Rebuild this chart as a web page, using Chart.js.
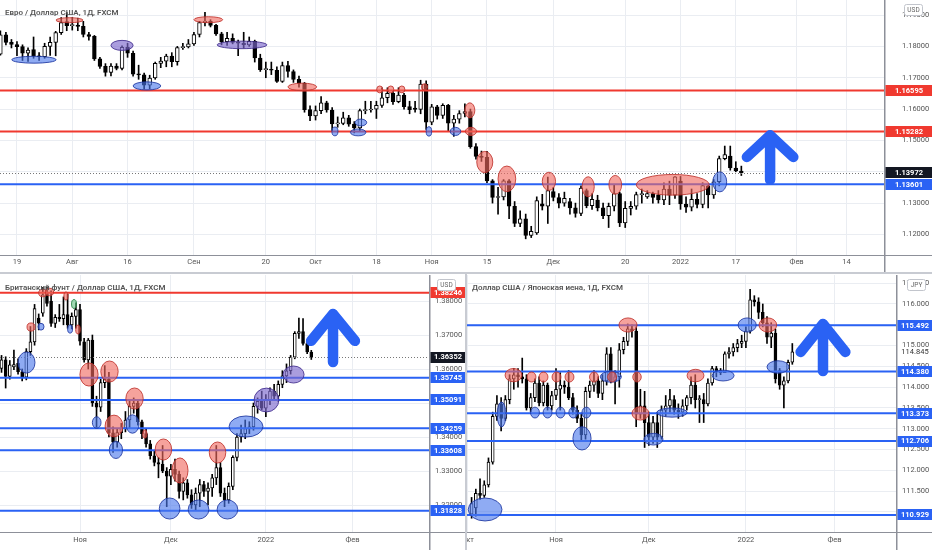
<!DOCTYPE html>
<html>
<head>
<meta charset="utf-8">
<script src="https://cdn.jsdelivr.net/npm/chart.js@4.4.1/dist/chart.umd.min.js"></script>
<style>
  body { margin: 0; background: #fff; width: 932px; height: 550px; overflow: hidden; position: relative; }
  canvas { position: absolute; }
  #eur { left: 0; top: 0; }
  #gbp { left: 0; top: 275px; }
  #jpy { left: 467px; top: 275px; }
  .sep { position: absolute; background: #c8cbd2; }
</style>
</head>
<body>
<canvas id="eur" width="932" height="272"></canvas>
<div class="sep" style="left:0;top:272px;width:932px;height:2px"></div>
<canvas id="gbp" width="465" height="275"></canvas>
<div class="sep" style="left:465px;top:274px;width:2px;height:276px"></div>
<canvas id="jpy" width="465" height="275"></canvas>
<script>
// ---- EUR/USD daily, first bar = Jul 14 2021 (index 0 = Jul 19)
const eurFirst = -3;
const eurOpen = [1.1775,1.1837,1.1813,1.1806,1.1799,1.1778,1.1790,1.1769,1.1767,1.1800,1.1813,1.1844,1.1879,1.1866,1.1868,1.1864,1.1838,1.1832,1.1760,1.1736,1.1717,1.1737,1.1730,1.1797,1.1778,1.1711,1.1709,1.1676,1.1699,1.1746,1.1753,1.1769,1.1751,1.1796,1.1798,1.1808,1.1838,1.1876,1.1880,1.1867,1.1840,1.1815,1.1826,1.1813,1.1810,1.1805,1.1816,1.1763,1.1726,1.1727,1.1724,1.1688,1.1739,1.1720,1.1695,1.1682,1.1598,1.1578,1.1595,1.1620,1.1597,1.1553,1.1554,1.1572,1.1552,1.1540,1.1595,1.1597,1.1600,1.1612,1.1636,1.1650,1.1624,1.1645,1.1608,1.1603,1.1599,1.1680,1.1558,1.1607,1.1580,1.1612,1.1555,1.1568,1.1586,1.1592,1.1480,1.1449,1.1446,1.1371,1.1318,1.1320,1.1371,1.1290,1.1235,1.1250,1.1197,1.1205,1.1298,1.1290,1.1337,1.1318,1.1300,1.1305,1.1285,1.1267,1.1340,1.1292,1.1310,1.1285,1.1260,1.1290,1.1330,1.1237,1.1283,1.1290,1.1327,1.1320,1.1330,1.1326,1.1310,1.1345,1.1325,1.1370,1.1297,1.1287,1.1312,1.1296,1.1355,1.1326,1.1368,1.1442,1.1450,1.1412,1.1402];
const eurHigh = [1.1850,1.1845,1.1822,1.1815,1.1805,1.1795,1.1830,1.1780,1.1810,1.1830,1.1848,1.1892,1.1908,1.1892,1.1890,1.1880,1.1845,1.1835,1.1765,1.1745,1.1745,1.1745,1.1802,1.1810,1.1785,1.1740,1.1715,1.1708,1.1750,1.1765,1.1775,1.1780,1.1800,1.1810,1.1822,1.1845,1.1880,1.1909,1.1885,1.1870,1.1845,1.1845,1.1840,1.1820,1.1845,1.1830,1.1820,1.1775,1.1750,1.1750,1.1735,1.1750,1.1752,1.1725,1.1705,1.1685,1.1610,1.1610,1.1640,1.1625,1.1605,1.1575,1.1590,1.1580,1.1560,1.1600,1.1625,1.1625,1.1625,1.1668,1.1668,1.1660,1.1668,1.1650,1.1625,1.1625,1.1692,1.1690,1.1615,1.1612,1.1617,1.1615,1.1580,1.1595,1.1617,1.1600,1.1490,1.1466,1.1465,1.1375,1.1350,1.1375,1.1375,1.1305,1.1275,1.1265,1.1226,1.1320,1.1328,1.1383,1.1350,1.1330,1.1335,1.1315,1.1300,1.1355,1.1345,1.1330,1.1325,1.1300,1.1300,1.1360,1.1335,1.1305,1.1305,1.1335,1.1345,1.1340,1.1335,1.1340,1.1365,1.1370,1.1385,1.1385,1.1320,1.1345,1.1330,1.1365,1.1360,1.1375,1.1450,1.1482,1.1482,1.1432,1.1418];
const eurLow = [1.1772,1.1805,1.1795,1.1770,1.1755,1.1752,1.1762,1.1755,1.1762,1.1771,1.1770,1.1838,1.1850,1.1852,1.1850,1.1830,1.1820,1.1755,1.1730,1.1705,1.1706,1.1725,1.1725,1.1765,1.1705,1.1695,1.1664,1.1665,1.1695,1.1732,1.1735,1.1735,1.1740,1.1790,1.1795,1.1803,1.1830,1.1865,1.1862,1.1835,1.1805,1.1803,1.1808,1.1770,1.1795,1.1800,1.1750,1.1720,1.1700,1.1710,1.1685,1.1685,1.1702,1.1685,1.1670,1.1590,1.1563,1.1565,1.1585,1.1590,1.1529,1.1542,1.1550,1.1545,1.1524,1.1530,1.1585,1.1590,1.1570,1.1605,1.1620,1.1615,1.1620,1.1600,1.1585,1.1590,1.1585,1.1535,1.1550,1.1568,1.1570,1.1530,1.1513,1.1555,1.1575,1.1475,1.1440,1.1433,1.1365,1.1300,1.1265,1.1310,1.1250,1.1225,1.1225,1.1186,1.1190,1.1200,1.1278,1.1235,1.1307,1.1285,1.1290,1.1265,1.1255,1.1260,1.1285,1.1280,1.1275,1.1250,1.1222,1.1275,1.1225,1.1222,1.1262,1.1280,1.1300,1.1315,1.1300,1.1300,1.1295,1.1295,1.1315,1.1280,1.1270,1.1275,1.1285,1.1285,1.1285,1.1315,1.1355,1.1438,1.1405,1.1400,1.1388];
const eurClose = [1.1837,1.1813,1.1806,1.1799,1.1778,1.1788,1.1769,1.1767,1.1800,1.1813,1.1844,1.1876,1.1866,1.1868,1.1864,1.1838,1.1832,1.1760,1.1736,1.1717,1.1737,1.1730,1.1797,1.1778,1.1711,1.1709,1.1676,1.1699,1.1746,1.1753,1.1769,1.1751,1.1796,1.1798,1.1808,1.1838,1.1876,1.1880,1.1867,1.1840,1.1815,1.1826,1.1813,1.1810,1.1805,1.1816,1.1763,1.1726,1.1727,1.1724,1.1688,1.1739,1.1720,1.1695,1.1682,1.1598,1.1578,1.1595,1.1620,1.1597,1.1553,1.1554,1.1572,1.1552,1.1540,1.1595,1.1597,1.1600,1.1612,1.1636,1.1650,1.1624,1.1645,1.1608,1.1598,1.1599,1.1680,1.1558,1.1607,1.1580,1.1612,1.1555,1.1568,1.1586,1.1592,1.1480,1.1449,1.1446,1.1371,1.1318,1.1320,1.1371,1.1290,1.1235,1.1250,1.1197,1.1210,1.1308,1.1290,1.1340,1.1318,1.1300,1.1315,1.1285,1.1267,1.1348,1.1292,1.1312,1.1285,1.1260,1.1290,1.1330,1.1237,1.1283,1.1290,1.1327,1.1328,1.1330,1.1318,1.1310,1.1345,1.1325,1.1384,1.1297,1.1287,1.1312,1.1296,1.1356,1.1326,1.1368,1.1442,1.1455,1.1412,1.1403,1.1397];
const eurTickPos = [0, 10, 20, 32, 45, 54, 65, 75, 85, 97, 110, 120, 130, 141, 150];
const eurTickLabels = ['19', 'Авг', '16', 'Сен', '20', 'Окт', '18', 'Ноя', '15', 'Дек', '20', '2022', '17', 'Фев', '14'];
const eurPriceTicks = [1.12, 1.13, 1.14, 1.15, 1.16, 1.17, 1.18, 1.19];
const eurRed = [1.16595, 1.15282];
const eurBlue = [1.13601];
const eurLast = 1.13972;
// ellipses: [bar, price, half width in bars, half height in price, colour]
const eurMarks = [
  [3.07, 1.17574, 4.0, 0.0011, 'b'], [9.5, 1.18836, 2.45, 0.0008, 'r'], [19.0, 1.18032, 2.0, 0.0016, 'p'],
  [23.5, 1.16738, 2.5, 0.0013, 'b'], [34.6, 1.18852, 2.6, 0.00095, 'r'], [40.7, 1.18047, 4.5, 0.0012, 'p'],
  [51.6, 1.16707, 2.6, 0.0012, 'r'], [65.6, 1.16628, 0.55, 0.0011, 'r'], [67.6, 1.16628, 0.55, 0.0011, 'r'],
  [69.6, 1.16628, 0.55, 0.0011, 'r'], [73.7, 1.16707, 0.55, 0.001, 'r'], [57.5, 1.15287, 0.55, 0.0014, 'b'],
  [61.7, 1.15256, 1.4, 0.0011, 'b'], [62.2, 1.15571, 1.05, 0.0011, 'b'], [74.5, 1.15287, 0.5, 0.0015, 'b'],
  [79.3, 1.15287, 0.95, 0.0013, 'b'], [81.9, 1.15959, 0.9, 0.0024, 'r'], [82.1, 1.15287, 1.0, 0.0013, 'r'],
  [84.6, 1.14309, 1.45, 0.0034, 'r'], [88.6, 1.13773, 1.6, 0.0041, 'r'], [96.2, 1.13694, 1.2, 0.0029, 'r'],
  [103.3, 1.13521, 1.1, 0.0032, 'r'], [108.2, 1.13584, 1.15, 0.003, 'r'], [118.6, 1.13584, 6.6, 0.0033, 'r'],
  [127.1, 1.13678, 1.25, 0.0032, 'b']
];
// arrow: [bar, tip price, base price, arm half width in bars, arm drop in price]
const eurArrow = [136.2, 1.15161, 1.13741, 4.2, 0.0069];

// ---- GBP/USD daily, index 0 = Nov 1 2021
const gbpFirst = -19;
const gbpOpen = [1.3602,1.3627,1.3578,1.3606,1.3617,1.3592,1.3576,1.3651,1.3680,1.3750,1.3764,1.3823,1.3800,1.3734,1.3752,1.3748,1.3760,1.3730,1.3755,1.3775,1.3680,1.3627,1.3685,1.3500,1.3488,1.3560,1.3570,1.3412,1.3385,1.3413,1.3425,1.3450,1.3490,1.3500,1.3445,1.3410,1.3380,1.3345,1.3325,1.3320,1.3300,1.3285,1.3305,1.3290,1.3240,1.3265,1.3230,1.3200,1.3235,1.3260,1.3240,1.3250,1.3280,1.3310,1.3235,1.3215,1.3255,1.3340,1.3400,1.3410,1.3425,1.3430,1.3490,1.3505,1.3485,1.3510,1.3535,1.3520,1.3555,1.3580,1.3595,1.3635,1.3705,1.3710,1.3675,1.3650];
const gbpHigh = [1.3640,1.3636,1.3625,1.3656,1.3630,1.3600,1.3660,1.3725,1.3790,1.3762,1.3840,1.3842,1.3830,1.3760,1.3790,1.3812,1.3820,1.3765,1.3795,1.3790,1.3690,1.3690,1.3700,1.3520,1.3570,1.3610,1.3590,1.3430,1.3425,1.3440,1.3475,1.3510,1.3515,1.3505,1.3450,1.3425,1.3390,1.3360,1.3340,1.3375,1.3310,1.3320,1.3335,1.3300,1.3280,1.3275,1.3245,1.3250,1.3275,1.3270,1.3265,1.3290,1.3375,1.3325,1.3250,1.3265,1.3345,1.3410,1.3435,1.3450,1.3445,1.3500,1.3515,1.3535,1.3525,1.3545,1.3555,1.3565,1.3595,1.3615,1.3640,1.3710,1.3750,1.3748,1.3685,1.3655];
const gbpLow = [1.3590,1.3544,1.3570,1.3598,1.3585,1.3565,1.3568,1.3640,1.3670,1.3715,1.3755,1.3785,1.3725,1.3722,1.3740,1.3730,1.3720,1.3718,1.3720,1.3670,1.3620,1.3600,1.3490,1.3425,1.3475,1.3545,1.3400,1.3355,1.3370,1.3395,1.3415,1.3425,1.3470,1.3435,1.3395,1.3370,1.3335,1.3315,1.3280,1.3295,1.3195,1.3260,1.3270,1.3220,1.3215,1.3220,1.3190,1.3185,1.3195,1.3225,1.3200,1.3225,1.3260,1.3225,1.3195,1.3205,1.3245,1.3330,1.3385,1.3395,1.3410,1.3420,1.3470,1.3480,1.3460,1.3495,1.3510,1.3505,1.3545,1.3560,1.3585,1.3630,1.3690,1.3670,1.3645,1.3628];
const gbpClose = [1.3627,1.3578,1.3612,1.3613,1.3592,1.3576,1.3651,1.3680,1.3778,1.3735,1.3818,1.3793,1.3734,1.3752,1.3748,1.3760,1.3730,1.3755,1.3775,1.3682,1.3627,1.3685,1.3500,1.3488,1.3560,1.3570,1.3412,1.3385,1.3413,1.3425,1.3450,1.3490,1.3500,1.3445,1.3410,1.3380,1.3345,1.3325,1.3320,1.3300,1.3285,1.3305,1.3290,1.3240,1.3265,1.3230,1.3200,1.3235,1.3260,1.3240,1.3250,1.3280,1.3310,1.3235,1.3215,1.3255,1.3340,1.3400,1.3410,1.3425,1.3430,1.3490,1.3505,1.3485,1.3510,1.3535,1.3520,1.3555,1.3580,1.3595,1.3635,1.3705,1.3710,1.3675,1.3650,1.3635];
const gbpTickPos = [0, 22, 45, 66];
const gbpTickLabels = ['Ноя', 'Дек', '2022', 'Фев'];
const gbpPriceTicks = [1.32, 1.33, 1.34, 1.35, 1.36, 1.37, 1.38];
const gbpRed = [1.38246];
const gbpBlue = [1.35745, 1.35091, 1.34259, 1.33608, 1.31828];
const gbpLast = 1.36352;
const gbpMarks = [
  [-11.86, 1.37235, 0.97, 0.0012, 'r'], [-9.44, 1.37244, 0.73, 0.001, 'b'], [-9.0, 1.38235, 1.0, 0.0011, 'r'],
  [-7.4, 1.38265, 1.0, 0.0011, 'r'], [-3.4, 1.38147, 0.5, 0.0012, 'r'], [-1.45, 1.37912, 0.6, 0.0013, 'g'],
  [-2.4, 1.37176, 0.6, 0.0012, 'b'], [-0.5, 1.37162, 0.55, 0.0013, 'r'], [-12.95, 1.36191, 2.05, 0.0031, 'b'],
  [2.18, 1.35838, 2.2, 0.0034, 'r'], [7.14, 1.35926, 2.1, 0.0031, 'r'], [4.04, 1.34426, 1.05, 0.0017, 'b'],
  [8.23, 1.34324, 2.15, 0.0032, 'r'], [8.7, 1.33618, 1.6, 0.0025, 'b'], [13.2, 1.35132, 2.1, 0.0031, 'r'],
  [12.7, 1.34382, 1.6, 0.0027, 'b'], [15.7, 1.34088, 0.5, 0.0012, 'r'], [20.2, 1.33632, 2.0, 0.0031, 'r'],
  [24.2, 1.33015, 1.95, 0.0037, 'r'], [21.7, 1.31897, 2.5, 0.0031, 'b'], [28.7, 1.31868, 2.5, 0.0028, 'b'],
  [33.3, 1.33544, 2.0, 0.0031, 'r'], [35.7, 1.31868, 2.5, 0.0028, 'b'], [40.2, 1.34309, 4.1, 0.0031, 'b'],
  [45.15, 1.35088, 3.0, 0.0035, 'p'], [51.7, 1.35838, 2.55, 0.0025, 'p']
];
const gbpArrow = [61.26, 1.37618, 1.36206, 5.3, 0.0079];

// ---- USD/JPY daily, index 0 = Nov 1 2021
const jpyFirst = -20;
const jpyOpen = [110.95,111.10,111.45,111.40,111.65,112.20,113.30,113.60,113.25,113.70,114.20,114.30,114.25,114.20,113.50,113.75,114.10,113.62,114.05,113.55,113.80,113.95,114.05,114.00,113.75,113.45,113.25,112.85,113.90,114.05,114.15,113.85,114.15,114.80,114.15,114.25,114.90,115.10,115.40,115.35,113.35,113.55,113.15,112.80,113.15,112.80,113.45,113.55,113.70,113.45,113.40,113.55,113.75,114.05,113.70,113.70,113.60,114.10,114.45,114.40,114.35,114.80,114.85,114.95,115.05,115.10,115.35,116.10,116.05,115.80,115.55,115.20,115.30,114.40,114.05,114.15,114.60];
const jpyHigh = [111.35,111.55,111.80,111.75,112.30,113.40,113.80,113.75,113.80,114.30,114.45,114.45,114.70,114.30,113.85,114.20,114.25,114.15,114.10,113.90,114.45,114.35,114.15,114.40,113.85,113.55,113.35,114.00,114.15,114.40,114.25,114.30,114.95,114.95,114.40,115.05,115.20,115.52,115.50,115.45,113.95,113.90,113.40,113.30,113.40,113.55,113.80,113.95,113.80,113.60,113.70,113.80,114.25,114.30,113.80,113.85,114.20,114.50,114.50,114.45,114.85,114.95,115.05,115.15,115.25,115.45,116.35,116.20,116.15,116.00,115.70,115.55,115.40,114.45,114.25,114.65,115.05];
const jpyLow = [110.85,110.90,111.30,111.35,111.60,112.15,113.20,112.95,113.20,113.60,113.95,114.00,114.10,113.45,113.40,113.65,113.55,113.55,113.45,113.45,113.70,113.45,113.85,113.70,113.35,113.15,112.70,112.75,113.75,113.90,113.75,113.70,114.05,114.10,113.60,114.00,114.80,115.00,115.20,113.05,113.25,112.55,112.60,112.65,112.55,112.75,113.30,113.40,113.35,113.25,113.30,113.45,113.60,113.50,113.15,113.15,113.55,114.05,114.25,114.30,114.35,114.70,114.75,114.85,114.95,114.95,115.30,115.95,115.65,115.45,115.05,114.95,114.10,113.95,113.50,114.10,114.55];
const jpyClose = [111.20,111.45,111.40,111.65,112.20,113.30,113.60,113.25,113.70,114.20,114.30,114.25,114.20,113.50,113.75,114.10,113.62,114.05,113.55,113.80,113.95,114.05,114.00,113.75,113.45,113.25,112.85,113.90,114.05,114.15,113.85,114.15,114.80,114.15,114.25,114.90,115.10,115.40,115.35,113.35,113.55,113.15,112.80,113.15,112.80,113.45,113.55,113.70,113.45,113.40,113.55,113.75,114.05,113.70,113.70,113.60,114.10,114.45,114.40,114.35,114.80,114.85,114.95,115.05,115.10,115.35,116.10,116.05,115.80,115.55,115.20,115.30,114.20,114.05,114.15,114.60,114.85];
const jpyTickPos = [-21, 0, 22, 45, 66];
const jpyTickLabels = ['Окт', 'Ноя', 'Дек', '2022', 'Фев'];
const jpyPriceTicks = [111, 111.5, 112, 112.5, 113, 113.5, 114, 114.5, 115, 115.5, 116, 116.5];
const jpyRed = [];
const jpyBlue = [115.492, 114.380, 113.373, 112.706, 110.929];
const jpyLast = 114.845;
const jpyMarks = [
  [-16.8, 111.06, 4.0, 0.276, 'b'], [-12.9, 113.344, 1.05, 0.30, 'b'], [-10.07, 114.29, 2.0, 0.16, 'r'],
  [13.0, 114.25, 2.5, 0.13, 'b'],
  [-5.8, 114.245, 1.05, 0.12, 'r'], [-2.96, 114.245, 1.05, 0.12, 'r'], [0.12, 114.245, 1.05, 0.12, 'r'],
  [3.2, 114.245, 1.05, 0.12, 'r'], [9.0, 114.245, 1.05, 0.12, 'r'], [13.3, 114.245, 1.05, 0.12, 'r'],
  [19.2, 114.245, 1.0, 0.12, 'r'], [-4.98, 113.39, 1.05, 0.13, 'b'], [-2.0, 113.39, 1.05, 0.13, 'b'],
  [1.07, 113.39, 1.05, 0.13, 'b'], [4.1, 113.39, 1.05, 0.13, 'b'], [7.2, 113.39, 1.05, 0.13, 'b'],
  [6.16, 112.77, 2.15, 0.28, 'b'], [17.06, 115.495, 2.15, 0.17, 'r'], [20.0, 113.37, 2.0, 0.16, 'r'],
  [23.1, 112.75, 2.25, 0.14, 'b'], [27.5, 113.39, 3.6, 0.11, 'b'], [33.06, 114.28, 2.0, 0.15, 'r'],
  [39.6, 114.28, 2.6, 0.13, 'b'], [45.3, 115.495, 2.15, 0.17, 'b'], [50.2, 115.495, 2.1, 0.17, 'r'],
  [52.6, 114.486, 2.6, 0.15, 'b']
];
const jpyArrow = [63.27, 115.519, 114.389, 5.3, 0.673];

const FONT = 'Roboto, "Liberation Sans", sans-serif';
const GRID = '#eaedf2';
const RED = '#f0392f';
const BLUE = '#2a62f4';
const FILLS = {
  r: ['rgba(240,105,95,0.62)', 'rgba(190,50,45,0.85)'],
  b: ['rgba(75,120,235,0.62)', 'rgba(30,55,160,0.85)'],
  p: ['rgba(125,105,205,0.65)', 'rgba(65,45,140,0.85)'],
  g: ['rgba(110,200,140,0.65)', 'rgba(40,130,70,0.85)']
};

function candles(first, open, high, low, close) {
  const bodies = [], wicks = [], fills = [];
  for (let k = 0; k < open.length; k++) {
    bodies.push({ x: first + k, y: [Math.min(open[k], close[k]), Math.max(open[k], close[k])] });
    wicks.push({ x: first + k, y: [low[k], high[k]] });
    fills.push(close[k] >= open[k] ? '#ffffff' : '#000000');
  }
  return { bodies, wicks, fills };
}

function box(ctx, x, yc, w, h, bg, fg, text, bold) {
  ctx.fillStyle = bg;
  ctx.fillRect(x, Math.round(yc - h / 2), w, h);
  ctx.fillStyle = fg;
  ctx.font = (bold ? 'bold ' : '') + '7.5px ' + FONT;
  ctx.textAlign = 'center';
  ctx.textBaseline = 'middle';
  ctx.fillText(text, x + w / 2, yc + 0.5);
}

const overlay = {
  id: 'overlay',
  afterDatasetsDraw(chart, args, o) {
    const { ctx, chartArea: a, scales: { x, y } } = chart;
    ctx.save();
    ctx.beginPath();
    ctx.rect(a.left, a.top, a.right - a.left, a.bottom - a.top);
    ctx.clip();
    if (o.lastLine) {
      const py = Math.round(y.getPixelForValue(o.last)) + 0.5;
      ctx.strokeStyle = '#777';
      ctx.lineWidth = 1;
      ctx.setLineDash([1, 2]);
      ctx.beginPath(); ctx.moveTo(a.left, py); ctx.lineTo(a.right, py); ctx.stroke();
      ctx.setLineDash([]);
    }
    const lines = o.red.map(v => [v, RED]).concat(o.blue.map(v => [v, BLUE]));
    lines.forEach(([v, col]) => {
      const py = y.getPixelForValue(v);
      ctx.strokeStyle = col;
      ctx.lineWidth = 2;
      ctx.beginPath(); ctx.moveTo(a.left, py); ctx.lineTo(a.right, py); ctx.stroke();
    });
    o.marks.forEach(([i, p, rx, ry, k]) => {
      const cx = x.getPixelForValue(i), cy = y.getPixelForValue(p);
      const w = Math.abs(x.getPixelForValue(i + rx) - cx);
      const h = Math.abs(y.getPixelForValue(p + ry) - cy);
      ctx.beginPath();
      ctx.ellipse(cx, cy, w, h, 0, 0, Math.PI * 2);
      ctx.fillStyle = FILLS[k][0];
      ctx.fill();
      ctx.strokeStyle = FILLS[k][1];
      ctx.lineWidth = 1;
      ctx.stroke();
    });
    const [ai, tip, base, arm, drop] = o.arrow;
    const tx = x.getPixelForValue(ai), ty = y.getPixelForValue(tip);
    const dx = x.getPixelForValue(ai + arm) - tx, dy = y.getPixelForValue(tip - drop) - ty;
    ctx.strokeStyle = BLUE;
    ctx.lineWidth = 10.5;
    ctx.lineCap = 'round';
    ctx.lineJoin = 'round';
    ctx.beginPath();
    ctx.moveTo(tx - dx, ty + dy); ctx.lineTo(tx, ty); ctx.lineTo(tx + dx, ty + dy);
    ctx.moveTo(tx, ty); ctx.lineTo(tx, y.getPixelForValue(base));
    ctx.stroke();
    ctx.restore();
  },
  afterDraw(chart, args, o) {
    const { ctx, chartArea: a, scales: { y }, width, height } = chart;
    ctx.save();
    ctx.fillStyle = '#8d9099';
    ctx.fillRect(Math.round(a.right), 0, 1.5, height);
    ctx.fillRect(0, Math.round(a.bottom), width, 1);
    const w = width - Math.round(a.right) - 1;
    const x0 = Math.round(a.right) + 1.5;
    o.red.forEach(v => box(ctx, x0, y.getPixelForValue(v), w, 11, RED, '#fff', v.toFixed(o.dec), true));
    o.blue.forEach(v => box(ctx, x0, y.getPixelForValue(v), w, 11, BLUE, '#fff', v.toFixed(o.dec), true));
    if (o.lastLine) box(ctx, x0, y.getPixelForValue(o.last), w, 11, '#131722', '#fff', o.last.toFixed(o.dec), true);
    else box(ctx, x0 + 2, y.getPixelForValue(o.last), w - 4, 9, '#fff', '#333', o.last.toFixed(o.dec), false);
    // currency tag
    ctx.fillStyle = '#fff';
    ctx.strokeStyle = '#c2c5cc';
    ctx.lineWidth = 1;
    ctx.beginPath();
    ctx.roundRect(o.curX + 0.5, 4.5, 18, 11, 2);
    ctx.fill(); ctx.stroke();
    ctx.fillStyle = '#666';
    ctx.font = '6.5px ' + FONT;
    ctx.textAlign = 'center';
    ctx.textBaseline = 'middle';
    ctx.fillText(o.currency, o.curX + 9.5, 10.5);
    // legend title
    ctx.fillStyle = '#555';
    ctx.font = '600 8px ' + FONT;
    ctx.textAlign = 'left';
    ctx.textBaseline = 'alphabetic';
    ctx.fillText(o.title, 5, 15);
    ctx.restore();
  }
};

function makeChart(id, cfg) {
  const c = candles(cfg.first, cfg.open, cfg.high, cfg.low, cfg.close);
  return new Chart(document.getElementById(id), {
    type: 'bar',
    data: {
      datasets: [
        { data: c.bodies, backgroundColor: c.fills, borderColor: '#000', borderWidth: 1,
          borderSkipped: false, barThickness: cfg.body, minBarLength: 1, grouped: false },
        { data: c.wicks, backgroundColor: '#000', borderWidth: 0, barThickness: 1, grouped: false }
      ]
    },
    options: {
      responsive: false,
      animation: false,
      events: [],
      layout: { padding: 0 },
      plugins: { legend: { display: false }, tooltip: { enabled: false }, overlay: cfg },
      scales: {
        x: {
          type: 'linear', min: cfg.xMin, max: cfg.xMax, offset: false,
          grid: { color: GRID, offset: false, drawTicks: false },
          border: { display: false },
          ticks: { autoSkip: false, maxRotation: 0, padding: cfg.xPad, color: '#555',
                   font: { family: FONT, size: 7.5 }, callback: (v, k) => cfg.tickLabels[k] },
          afterBuildTicks: s => { s.ticks = cfg.tickPos.map(v => ({ value: v })); },
          afterFit: s => { s.height = cfg.xAxisH; s.paddingLeft = 0; s.paddingRight = 0; }
        },
        y: {
          type: 'linear', position: 'right', min: cfg.yMin, max: cfg.yMax,
          grid: { color: GRID, drawTicks: false },
          border: { display: false },
          ticks: { padding: cfg.yPad, color: '#555', font: { family: FONT, size: 7.5 },
                   callback: v => v.toFixed(cfg.dec) },
          afterBuildTicks: s => { s.ticks = cfg.priceTicks.map(v => ({ value: v })); },
          afterFit: s => { s.width = cfg.yAxisW; s.paddingTop = 0; s.paddingBottom = 0; }
        }
      }
    },
    plugins: [overlay]
  });
}

makeChart('eur', {
  first: eurFirst, open: eurOpen, high: eurHigh, low: eurLow, close: eurClose,
  tickPos: eurTickPos, tickLabels: eurTickLabels, priceTicks: eurPriceTicks,
  red: eurRed, blue: eurBlue, last: eurLast, lastLine: true, marks: eurMarks, arrow: eurArrow,
  xMin: -3.07, xMax: 156.8, yMin: 1.11344, yMax: 1.1948, dec: 5,
  body: 3.8, xAxisH: 17, yAxisW: 48, xPad: 3, yPad: 18, curX: 904,
  currency: 'USD', title: 'Евро / Доллар США, 1Д, FXCM'
});
makeChart('gbp', {
  first: gbpFirst, open: gbpOpen, high: gbpHigh, low: gbpLow, close: gbpClose,
  tickPos: gbpTickPos, tickLabels: gbpTickLabels, priceTicks: gbpPriceTicks,
  red: gbpRed, blue: gbpBlue, last: gbpLast, lastLine: true, marks: gbpMarks, arrow: gbpArrow,
  xMin: -19.37, xMax: 84.5, yMin: 1.31206, yMax: 1.38765, dec: 5,
  body: 3, xAxisH: 18, yAxisW: 36, xPad: 4, yPad: 6, curX: 437,
  currency: 'USD', title: 'Британский фунт / Доллар США, 1Д, FXCM'
});
makeChart('jpy', {
  first: jpyFirst, open: jpyOpen, high: jpyHigh, low: jpyLow, close: jpyClose,
  tickPos: jpyTickPos, tickLabels: jpyTickLabels, priceTicks: jpyPriceTicks,
  red: jpyRed, blue: jpyBlue, last: jpyLast, lastLine: false, marks: jpyMarks, arrow: jpyArrow,
  xMin: -21.09, xMax: 80.57, yMin: 110.519, yMax: 116.697, dec: 3,
  body: 3, xAxisH: 18, yAxisW: 36, xPad: 4, yPad: 6, curX: 440,
  currency: 'JPY', title: 'Доллар США / Японская иена, 1Д, FXCM'
});
</script>
</body>
</html>
